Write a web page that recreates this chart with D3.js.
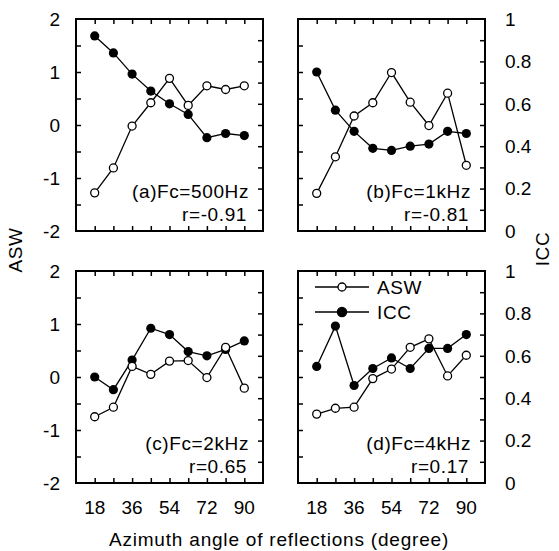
<!DOCTYPE html>
<html>
<head>
<meta charset="utf-8">
<script src="https://cdn.jsdelivr.net/npm/d3@7"></script>
<style>
  body { margin: 0; background: #fff; }
  svg text { font-family: "Liberation Sans", Arial, sans-serif; fill: #000; }
</style>
</head>
<body>
<svg id="chart" width="559" height="551"></svg>
<script>
var angles = [18, 27, 36, 45, 54, 63, 72, 81, 90];
var xTickLabels = [18, 36, 54, 72, 90];
var aswTicks = [-2, -1, 0, 1, 2];
var iccTicks = [0, 0.2, 0.4, 0.6, 0.8, 1];

var panelNames = ["(a)Fc=500Hz", "(b)Fc=1kHz", "(c)Fc=2kHz", "(d)Fc=4kHz"];
var rLabels = ["r=-0.91", "r=-0.81", "r=0.65", "r=0.17"];

var asw500 = [-1.28, -0.81, -0.02, 0.42, 0.88, 0.37, 0.74, 0.67, 0.74];
var icc500 = [0.92, 0.84, 0.74, 0.66, 0.60, 0.55, 0.44, 0.46, 0.45];
var asw1k = [-1.29, -0.60, 0.17, 0.42, 0.99, 0.43, -0.01, 0.60, -0.76];
var icc1k = [0.75, 0.57, 0.47, 0.39, 0.38, 0.40, 0.41, 0.47, 0.46];
var asw2k = [-0.75, -0.57, 0.20, 0.05, 0.30, 0.31, -0.01, 0.56, -0.21];
var icc2k = [0.50, 0.44, 0.58, 0.73, 0.70, 0.62, 0.60, 0.63, 0.67];
var asw4k = [-0.70, -0.59, -0.57, -0.03, 0.15, 0.56, 0.72, 0.02, 0.41];
var icc4k = [0.55, 0.74, 0.46, 0.54, 0.59, 0.54, 0.635, 0.635, 0.70];

var aswSeries = [asw500, asw1k, asw2k, asw4k];
var iccSeries = [icc500, icc1k, icc2k, icc4k];

// panel boxes (left, top)
var boxes = [[76, 19], [298, 19], [76, 271], [298, 271]];
var pw = 187, ph = 212;

var svg = d3.select("#chart");

boxes.forEach(function(b, i) {
  var g = svg.append("g").attr("transform", "translate(" + b[0] + "," + b[1] + ")");
  var x = d3.scaleLinear().domain([9, 99]).range([0, pw]);
  var ya = d3.scaleLinear().domain([-2, 2]).range([ph, 0]);
  var yi = d3.scaleLinear().domain([0, 1]).range([ph, 0]);

  // inward ticks
  g.append("g").call(d3.axisBottom(x).tickValues(angles).tickSize(-5).tickFormat(""))
    .attr("transform", "translate(0," + ph + ")");
  g.append("g").call(d3.axisTop(x).tickValues(angles).tickSize(-5).tickFormat(""));
  g.append("g").call(d3.axisLeft(ya).tickValues(d3.range(-1.5, 2, 0.5)).tickSize(-5).tickFormat(""));
  g.append("g").call(d3.axisRight(yi).tickValues(d3.range(0.1, 1, 0.1)).tickSize(-5).tickFormat(""))
    .attr("transform", "translate(" + pw + ",0)");
  g.selectAll(".domain").remove();
  g.selectAll(".tick line").attr("stroke", "#000").attr("stroke-width", 1.5);

  g.append("rect").attr("width", pw).attr("height", ph)
    .attr("fill", "none").attr("stroke", "#000").attr("stroke-width", 2);

  // left tick labels
  if (i % 2 === 0) {
    g.selectAll(".yl").data(aswTicks).enter().append("text")
      .attr("x", -16).attr("y", function(d) { return ya(d); })
      .attr("dy", "0.36em").attr("text-anchor", "end")
      .style("font-size", "19px")
      .text(function(d) { return d; });
  } else {
    g.selectAll(".yr").data(iccTicks).enter().append("text")
      .attr("x", pw + 20).attr("y", function(d) { return yi(d); })
      .attr("dy", "0.36em").attr("text-anchor", "start")
      .style("font-size", "19px")
      .text(function(d) { return d; });
  }
  if (i >= 2) {
    g.selectAll(".xl").data(xTickLabels).enter().append("text")
      .attr("x", function(d) { return x(d); }).attr("y", ph + 31)
      .attr("text-anchor", "middle").style("font-size", "19px")
      .text(function(d) { return d; });
  }

  var line = d3.line().x(function(d, j) { return x(angles[j]); });

  g.append("path").datum(iccSeries[i])
    .attr("d", line.y(function(d) { return yi(d); }))
    .attr("fill", "none").attr("stroke", "#000").attr("stroke-width", 1.3);
  g.append("path").datum(aswSeries[i])
    .attr("d", line.y(function(d) { return ya(d); }))
    .attr("fill", "none").attr("stroke", "#000").attr("stroke-width", 1.3);

  g.selectAll(".ic").data(iccSeries[i]).enter().append("circle")
    .attr("cx", function(d, j) { return x(angles[j]); })
    .attr("cy", function(d) { return yi(d); })
    .attr("r", 4.6).attr("fill", "#000");
  g.selectAll(".as").data(aswSeries[i]).enter().append("circle")
    .attr("cx", function(d, j) { return x(angles[j]); })
    .attr("cy", function(d) { return ya(d); })
    .attr("r", 4).attr("fill", "#fff").attr("stroke", "#000").attr("stroke-width", 1.3);

  g.append("text").attr("x", pw - 14).attr("y", ph - 33)
    .attr("text-anchor", "end").style("font-size", "19px").style("letter-spacing", "0.6px")
    .text(panelNames[i]);
  g.append("text").attr("x", pw - 16).attr("y", ph - 10)
    .attr("text-anchor", "end").style("font-size", "19px").style("letter-spacing", "0.6px")
    .text(rLabels[i]);

  // legend in last panel
  if (i === 3) {
    var leg = [["ASW", "#fff", 16], ["ICC", "#000", 41]];
    leg.forEach(function(l) {
      g.append("line").attr("x1", 17).attr("x2", 71).attr("y1", l[2]).attr("y2", l[2])
        .attr("stroke", "#000").attr("stroke-width", 1.3);
      g.append("circle").attr("cx", 44).attr("cy", l[2]).attr("r", l[1] === "#000" ? 4.6 : 4)
        .attr("fill", l[1]).attr("stroke", "#000").attr("stroke-width", 1.3);
      g.append("text").attr("x", 79).attr("y", l[2]).attr("dy", "0.36em")
        .style("font-size", "19px").style("letter-spacing", "0.6px").text(l[0]);
    });
  }
});

svg.append("text").attr("transform", "translate(22,250) rotate(-90)")
  .attr("text-anchor", "middle").style("font-size", "19px").style("letter-spacing", "0.6px")
  .text("ASW");
svg.append("text").attr("transform", "translate(549,249) rotate(-90)")
  .attr("text-anchor", "middle").style("font-size", "19px").style("letter-spacing", "0.6px")
  .text("ICC");
svg.append("text").attr("x", 279).attr("y", 546)
  .attr("text-anchor", "middle").style("font-size", "19px").style("letter-spacing", "0.8px")
  .text("Azimuth angle of reflections (degree)");
</script>
</body>
</html>
